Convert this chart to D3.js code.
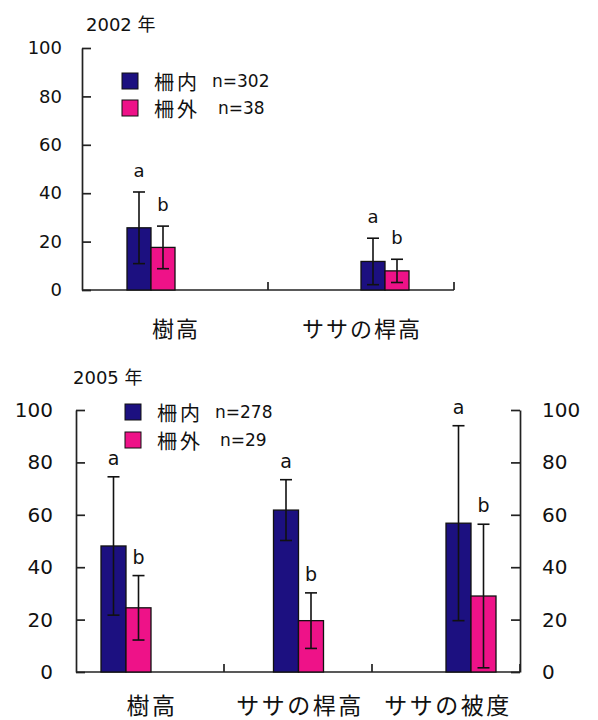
<!DOCTYPE html>
<html>
<head>
<meta charset="utf-8">
<script src="https://cdn.jsdelivr.net/npm/d3@7"></script>
<style>
  html, body { margin: 0; padding: 0; background: #fff; }
  svg { display: block; }
  text { font-family: "DejaVu Sans", "Noto Sans CJK JP", sans-serif; fill: #111; }
  .cjk { font-family: "Noto Sans CJK JP", sans-serif; }
</style>
</head>
<body>
<svg id="chart" width="598" height="720"></svg>
<script>
// ---- data ----
const groups = ["柵内", "柵外"];
const groupLetters = ["a", "b"];
const yTicks = [0, 20, 40, 60, 80, 100];

const cats2002 = ["樹高", "ササの桿高"];
const inside2002 = [25.7, 11.8];
const insideSd2002 = [14.8, 9.6];
const outside2002 = [17.6, 7.9];
const outsideSd2002 = [8.8, 4.8];
const n2002 = [302, 38];

const cats2005 = ["樹高", "ササの桿高", "ササの被度"];
const inside2005 = [48.1, 61.8, 56.8];
const insideSd2005 = [26.4, 11.6, 37.2];
const outside2005 = [24.5, 19.6, 29.0];
const outsideSd2005 = [12.3, 10.6, 27.4];
const n2005 = [278, 29];

const colors = ["#1c1080", "#ee1288"];

const svg = d3.select("#chart");

function drawPanel(p) {
  const g = svg.append("g");
  const y = d3.scaleLinear().domain([0, 100]).range([p.bottom, p.top]);
  const xCat = d3.scaleBand().domain(p.cats).range([p.left, p.right]);
  const xGroup = d3.scalePoint().domain(p.cats).range(p.barRange);
  const xSub = d3.scaleBand().domain(groups).range([-p.barW, p.barW]);

  const rows = [];
  p.cats.forEach((c, i) => {
    groups.forEach((grp, j) => {
      const mean = j === 0 ? p.inside[i] : p.outside[i];
      const sd = j === 0 ? p.insideSd[i] : p.outsideSd[i];
      rows.push({ cat: c, grp, j, mean, sd });
    });
  });

  // left axis
  const left = g.append("g").attr("transform", `translate(${p.left},0)`)
    .call(d3.axisLeft(y).tickValues(yTicks).tickSizeInner(-p.tick).tickSizeOuter(0).tickPadding(p.pad));
  // right axis (optional)
  let right = null;
  if (p.rightAxis) {
    right = g.append("g").attr("transform", `translate(${p.right},0)`)
      .call(d3.axisRight(y).tickValues(yTicks).tickSizeInner(-p.tick).tickSizeOuter(0).tickPadding(p.pad - 1));
  }
  [left, right].filter(Boolean).forEach(ax => {
    ax.select(".domain").attr("stroke", "#222").attr("stroke-width", 1.7);
    ax.selectAll(".tick line").attr("stroke", "#222").attr("stroke-width", 1.7);
    ax.selectAll(".tick text").attr("font-size", p.tickFont).attr("fill", "#111")
      .style("font-family", "'DejaVu Sans', sans-serif");
  });

  // x axis baseline and category separators
  g.append("line").attr("x1", p.left).attr("x2", p.right)
    .attr("y1", y(0)).attr("y2", y(0)).attr("stroke", "#222").attr("stroke-width", 1.7);
  g.selectAll(".sep").data(p.cats).join("line")
    .attr("x1", d => xCat(d) + xCat.bandwidth()).attr("x2", d => xCat(d) + xCat.bandwidth())
    .attr("y1", y(0)).attr("y2", y(0) - 8).attr("stroke", "#222").attr("stroke-width", 1.7);

  // category labels
  g.selectAll(".cat").data(p.cats).join("text")
    .attr("class", "cjk")
    .attr("x", d => xCat(d) + xCat.bandwidth() / 2 + p.catShift)
    .attr("y", p.catY).attr("dominant-baseline", "central")
    .attr("text-anchor", "middle").attr("font-size", p.catFont)
    .attr("letter-spacing", p.catSpacing)
    .text(d => d);

  // bars
  const bx = d => xGroup(d.cat) + xSub(d.grp);
  g.selectAll(".bar").data(rows).join("rect")
    .attr("x", bx).attr("width", xSub.bandwidth())
    .attr("y", d => y(d.mean)).attr("height", d => y(0) - y(d.mean))
    .attr("fill", d => colors[d.j]).attr("stroke", "#111").attr("stroke-width", 1.3);

  // error bars
  const cx = d => bx(d) + xSub.bandwidth() / 2;
  const eb = g.selectAll(".err").data(rows).join("g");
  eb.append("line").attr("x1", cx).attr("x2", cx)
    .attr("y1", d => y(d.mean + d.sd)).attr("y2", d => y(Math.max(0, d.mean - d.sd)));
  eb.append("line").attr("x1", d => cx(d) - 6).attr("x2", d => cx(d) + 6)
    .attr("y1", d => y(d.mean + d.sd)).attr("y2", d => y(d.mean + d.sd));
  eb.append("line").attr("x1", d => cx(d) - 6).attr("x2", d => cx(d) + 6)
    .attr("y1", d => y(Math.max(0, d.mean - d.sd))).attr("y2", d => y(Math.max(0, d.mean - d.sd)));
  eb.selectAll("line").attr("stroke", "#111").attr("stroke-width", 1.6);

  // significance letters
  g.selectAll(".sig").data(rows).join("text")
    .attr("x", cx).attr("y", d => y(d.mean + d.sd) - p.sigGap)
    .attr("text-anchor", "middle").attr("font-size", p.sigFont)
    .text(d => groupLetters[d.j]);

  // title
  g.append("text").attr("x", p.titleX).attr("y", p.titleY)
    .attr("dominant-baseline", "central").attr("font-size", p.titleFont)
    .text(p.title);

  // legend
  const lg = g.selectAll(".lg").data(groups).join("g")
    .attr("transform", (d, i) => `translate(0,${p.legY + i * p.legRow})`);
  lg.append("rect").attr("x", p.legX).attr("y", -p.legSq / 2)
    .attr("width", p.legSq).attr("height", p.legSq)
    .attr("fill", (d, i) => colors[i]).attr("stroke", "#111").attr("stroke-width", 1);
  lg.append("text").attr("class", "cjk").attr("x", p.legTextX).attr("y", 0)
    .attr("dominant-baseline", "central").attr("font-size", p.legFont)
    .attr("letter-spacing", 3)
    .text(d => d);
  lg.append("text").attr("x", (d, i) => p.legNX[i]).attr("y", 0)
    .attr("dominant-baseline", "central").attr("font-size", p.nFont)
    .text((d, i) => "n=" + p.n[i]);
}

drawPanel({
  title: "2002 年", cats: cats2002,
  inside: inside2002, insideSd: insideSd2002, outside: outside2002, outsideSd: outsideSd2002, n: n2002,
  left: 82, right: 454, top: 48, bottom: 290, barRange: [151, 385], barW: 24,
  tick: 9, pad: 20, tickFont: 18, rightAxis: false,
  catY: 327, catFont: 22, catSpacing: 2, catShift: 1,
  sigGap: 15, sigFont: 18,
  titleX: 86, titleY: 24, titleFont: 18,
  legX: 122, legY: 81, legRow: 27, legSq: 16, legTextX: 154, legNX: [212, 218], legFont: 20, nFont: 17
});

drawPanel({
  title: "2005 年", cats: cats2005,
  inside: inside2005, insideSd: insideSd2005, outside: outside2005, outsideSd: outsideSd2005, n: n2005,
  left: 76, right: 520, top: 410, bottom: 672, barRange: [126, 471], barW: 25,
  tick: 9, pad: 23, tickFont: 20, rightAxis: true,
  catY: 704, catFont: 23, catSpacing: 2.5, catShift: 2,
  sigGap: 12, sigFont: 19,
  titleX: 73, titleY: 377, titleFont: 18,
  legX: 125, legY: 412, legRow: 28, legSq: 16, legTextX: 157, legNX: [215, 220], legFont: 20, nFont: 17
});
</script>
</body>
</html>
